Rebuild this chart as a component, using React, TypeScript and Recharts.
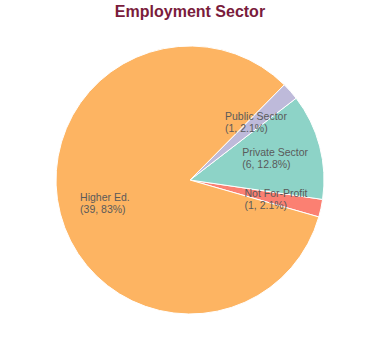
import React from "react";
import { PieChart, Pie, Cell } from "recharts";

const categories = ["Not For-Profit", "Private Sector", "Public Sector", "Higher Ed."];
const counts = [1, 6, 1, 39];
const colors = ["#FB8072", "#8DD3C7", "#BEBADA", "#FDB462"];

const total = counts.reduce((a, b) => a + b, 0);
const data = categories.map((name, i) => ({ name, value: counts[i] }));

const FONT = "'Liberation Sans', Arial, sans-serif";
const LABEL_SIZE = 10.5;

let ctx: CanvasRenderingContext2D | null = null;
function measure(text: string): number {
  if (!ctx) {
    const c = document.createElement("canvas");
    ctx = c.getContext("2d");
  }
  if (!ctx) return text.length * LABEL_SIZE * 0.5;
  ctx.font = `${LABEL_SIZE}px ${FONT}`;
  return ctx.measureText(text).width;
}

function fmtPct(v: number): string {
  const p = (v / total) * 100;
  const s = p.toFixed(1);
  return (s.endsWith(".0") ? s.slice(0, -2) : s) + "%";
}

const RADIAN = Math.PI / 180;

const renderLabel = (props: any) => {
  const { cx, cy, midAngle, name, value } = props;
  const r = 88;
  const x = cx + r * Math.cos(-midAngle * RADIAN);
  const y = cy + r * Math.sin(-midAngle * RADIAN);
  const l1 = String(name);
  const l2 = `(${value}, ${fmtPct(value)})`;
  const w = Math.max(measure(l1), measure(l2));
  const left = x - w / 2;
  return (
    <text fill="#5a5a5a" fontSize={LABEL_SIZE} fontFamily={FONT} textAnchor="start">
      <tspan x={left} y={y - 1.5}>{l1}</tspan>
      <tspan x={left} y={y + 10.5}>{l2}</tspan>
    </text>
  );
};

export default function App() {
  return (
    <div style={{ position: "absolute", left: 0, top: 0, width: 380, height: 360, background: "#fff" }}>
      <div
        style={{
          position: "absolute",
          left: 0,
          top: 4,
          width: 380,
          textAlign: "center",
          fontFamily: FONT,
          fontWeight: "bold",
          fontSize: 16,
          lineHeight: "16px",
          color: "#7A1C3C",
        }}
      >
        Employment Sector
      </div>
      <PieChart width={380} height={360} margin={{ top: 0, right: 0, bottom: 0, left: 0 }}>
        <Pie
          data={data}
          dataKey="value"
          nameKey="name"
          cx={190}
          cy={180}
          outerRadius={134}
          startAngle={-16}
          endAngle={344}
          stroke="#ffffff"
          strokeWidth={1}
          label={renderLabel}
          labelLine={false}
          isAnimationActive={false}
        >
          {data.map((d, i) => (
            <Cell key={d.name} fill={colors[i]} />
          ))}
        </Pie>
      </PieChart>
    </div>
  );
}
